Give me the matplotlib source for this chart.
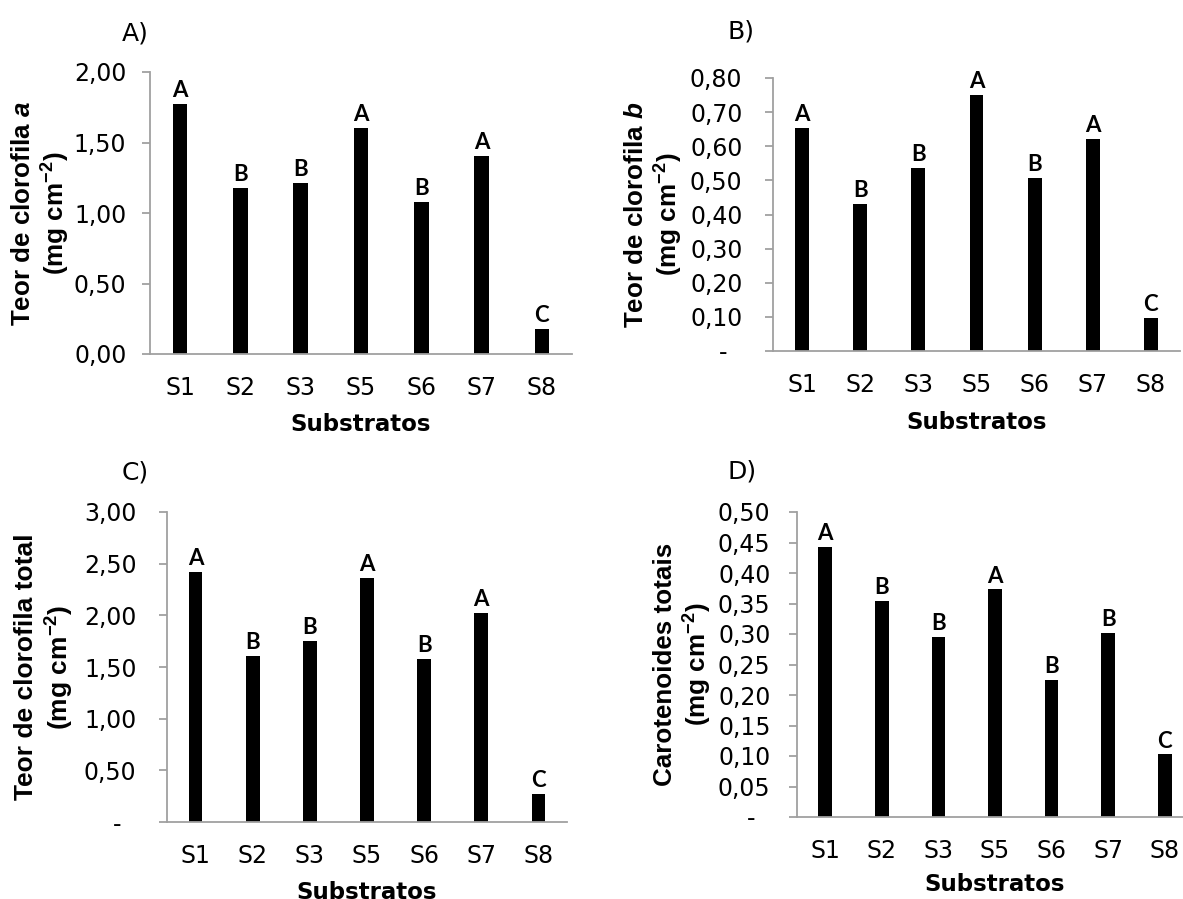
import numpy as np
import matplotlib
matplotlib.use("Agg")
import matplotlib.pyplot as plt
import matplotlib.transforms as mtransforms
from matplotlib.ticker import FuncFormatter

# the reference text is stretched Arial, DejaVu has about the same widths
plt.rcParams['font.family'] = ['DejaVu Sans']
plt.rcParams['mathtext.fontset'] = 'custom'
plt.rcParams['mathtext.rm'] = 'Liberation Sans'
plt.rcParams['mathtext.bf'] = 'Liberation Sans:bold'
plt.rcParams['mathtext.it'] = 'Liberation Sans:italic'
plt.rcParams['mathtext.bfit'] = 'Liberation Sans:italic:bold'

# substratos
substratos = ["S1", "S2", "S3", "S5", "S6", "S7", "S8"]

# A) clorofila a
clor_a = [1.77, 1.18, 1.215, 1.60, 1.075, 1.405, 0.177]
letras_a = ["A", "B", "B", "A", "B", "A", "C"]

# B) clorofila b
clor_b = [0.654, 0.430, 0.537, 0.750, 0.508, 0.620, 0.098]
letras_b = ["A", "B", "B", "A", "B", "A", "C"]

# C) clorofila total
clor_total = [2.42, 1.605, 1.753, 2.357, 1.579, 2.021, 0.274]
letras_total = ["A", "B", "B", "A", "B", "A", "C"]

# D) carotenoides totais
carot = [0.442, 0.354, 0.295, 0.373, 0.224, 0.302, 0.1025]
letras_carot = ["A", "B", "B", "A", "B", "B", "C"]

W, H = 1183, 899
fig = plt.figure(figsize=(W / 100, H / 100), dpi=100)

AXIS_GRAY = '#a0a0a0'


def box(l, r, t, b):
    # pixel box -> figure fraction
    return [l / W, 1 - b / H, (r - l) / W, (b - t) / H]


def fmt(zero_dash):
    def f(v, pos):
        if abs(v) < 1e-9 and zero_dash:
            return "-"
        return f"{v:.2f}".replace(".", ",")
    return FuncFormatter(f)


def painel(rect, vals, letras, ymax, step, ylabel, zero_dash, ylab_x, xlab_y,
           ypad, ylab_size=18.7):
    ax = fig.add_axes(rect)
    x = np.arange(len(substratos))
    ax.bar(x, vals, width=0.24, color='black', zorder=2)
    for xi, v, l in zip(x, vals, letras):
        ax.annotate(l, (xi, v), xytext=(0, 5), textcoords='offset points',
                    ha='center', va='baseline', fontsize=16,
                    fontfamily='Lato', fontweight='bold')
    ax.set_xlim(-0.5, len(substratos) - 0.5)
    ax.set_ylim(0, ymax)
    ax.set_yticks(np.arange(0, ymax + step / 2, step))
    ax.yaxis.set_major_formatter(fmt(zero_dash))
    ax.set_xticks(x)
    ax.set_xticklabels(substratos)
    for s in ['top', 'right']:
        ax.spines[s].set_visible(False)
    for s in ['left', 'bottom']:
        ax.spines[s].set_color(AXIS_GRAY)
        ax.spines[s].set_linewidth(1.3)
    ax.tick_params(axis='y', length=6, width=1.3, color=AXIS_GRAY,
                   labelsize=17, pad=ypad)
    ax.tick_params(axis='x', length=0, labelsize=17, pad=16)
    if zero_dash:
        # the dash sits a bit left of the other labels
        lab0 = ax.yaxis.get_major_ticks()[0].label1
        shift = mtransforms.ScaledTranslation(-0.15, 0, fig.dpi_scale_trans)
        lab0.set_transform(lab0.get_transform() + shift)
    ax.set_ylabel(ylabel, fontsize=ylab_size, fontweight='bold', va='center',
                  linespacing=1.2, fontfamily='Liberation Sans')
    ax.yaxis.set_label_coords(ylab_x, 0.5)
    ax.set_xlabel("Substratos", fontsize=16.5, fontweight='bold', va='center')
    ax.xaxis.set_label_coords(0.5, xlab_y)
    return ax


unid = "(mg cm$^{\\mathbf{-2}}$)"

painel(box(150, 572, 72, 354), clor_a, letras_a, 2.0, 0.5,
       "Teor de clorofila $\\mathbfit{a}$\n" + unid, False, -0.257, -0.25, 11)
painel(box(773, 1180, 78, 351), clor_b, letras_b, 0.8, 0.1,
       "Teor de clorofila $\\mathbfit{b}$\n" + unid, True, -0.291, -0.262, 16)
painel(box(167, 567, 512, 822), clor_total, letras_total, 3.0, 0.5,
       "Teor de clorofila total\n" + unid, True, -0.305, -0.229, 16, 19)
painel(box(797, 1193, 512, 817), carot, letras_carot, 0.5, 0.05,
       "Carotenoides totais\n" + unid, True, -0.287, -0.222, 13)

for txt, px, py in [("A)", 122, 34), ("B)", 728, 32), ("C)", 122, 472), ("D)", 728, 471)]:
    fig.text(px / W, 1 - py / H, txt, fontsize=18, ha='left', va='center')

fig.savefig("out.png", dpi=100)
